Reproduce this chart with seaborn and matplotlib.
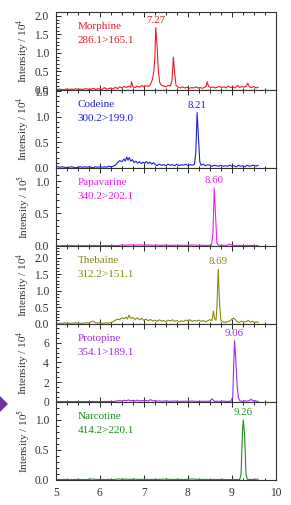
import matplotlib
matplotlib.use("Agg")
import matplotlib.pyplot as plt
from matplotlib.patches import Polygon
from matplotlib.ticker import MultipleLocator
import seaborn as sns

# retention time (min) and intensity for each MRM trace
morphine_t = [5.00, 5.05, 5.10, 5.15, 5.20, 5.25, 5.30, 5.35, 5.40, 5.45, 5.50, 5.55, 5.60, 5.65, 5.70,
              5.75, 5.80, 5.85, 5.90, 5.95, 6.00, 6.05, 6.10, 6.15, 6.20, 6.25, 6.30, 6.35, 6.40, 6.45,
              6.50, 6.55, 6.60, 6.65, 6.70, 6.72, 6.75, 6.80, 6.85, 6.90, 6.95, 7.00, 7.05, 7.10, 7.15,
              7.20, 7.23, 7.25, 7.27, 7.30, 7.33, 7.36, 7.40, 7.45, 7.50, 7.55, 7.60, 7.64, 7.67, 7.70,
              7.73, 7.78, 7.83, 7.88, 7.93, 7.98, 8.03, 8.08, 8.13, 8.18, 8.23, 8.28, 8.33, 8.38, 8.42,
              8.44, 8.47, 8.52, 8.57, 8.62, 8.67, 8.72, 8.77, 8.82, 8.87, 8.92, 8.97, 9.02, 9.07, 9.13,
              9.18, 9.23, 9.28, 9.33, 9.36, 9.40, 9.45, 9.50, 9.55, 9.60]
morphine_i = [0.02, 0.01, 0.02, 0.00, 0.01, 0.02, 0.01, 0.02, 0.01, 0.03, 0.01, 0.02, 0.01, 0.02, 0.03,
              0.01, 0.02, 0.04, 0.01, 0.03, 0.02, 0.01, 0.06, 0.02, 0.03, 0.05, 0.02, 0.07, 0.03, 0.08,
              0.05, 0.09, 0.06, 0.10, 0.07, 0.22, 0.08, 0.06, 0.10, 0.07, 0.12, 0.08, 0.11, 0.09, 0.14,
              0.30, 0.55, 0.90, 1.68, 1.20, 0.50, 0.20, 0.12, 0.10, 0.08, 0.12, 0.10, 0.25, 0.88, 0.45,
              0.12, 0.07, 0.05, 0.08, 0.05, 0.07, 0.04, 0.06, 0.05, 0.08, 0.05, 0.06, 0.04, 0.07, 0.10,
              0.22, 0.09, 0.06, 0.08, 0.05, 0.07, 0.09, 0.06, 0.08, 0.05, 0.10, 0.06, 0.08, 0.05, 0.12,
              0.06, 0.09, 0.07, 0.10, 0.18, 0.08, 0.06, 0.09, 0.05, 0.07]

codeine_t = [5.00, 5.05, 5.10, 5.15, 5.20, 5.25, 5.30, 5.35, 5.40, 5.45, 5.50, 5.55, 5.60, 5.65, 5.70,
             5.75, 5.80, 5.85, 5.90, 5.95, 6.00, 6.05, 6.10, 6.15, 6.20, 6.25, 6.30, 6.35, 6.40, 6.45,
             6.50, 6.55, 6.58, 6.61, 6.64, 6.67, 6.70, 6.74, 6.78, 6.82, 6.86, 6.90, 6.94, 6.98, 7.02,
             7.06, 7.10, 7.14, 7.18, 7.22, 7.26, 7.30, 7.35, 7.40, 7.45, 7.50, 7.55, 7.60, 7.65, 7.70,
             7.75, 7.80, 7.85, 7.90, 7.95, 8.00, 8.05, 8.10, 8.15, 8.18, 8.21, 8.24, 8.27, 8.30, 8.35,
             8.40, 8.45, 8.50, 8.55, 8.60, 8.65, 8.70, 8.75, 8.80, 8.85, 8.90, 8.95, 9.00, 9.05, 9.10,
             9.15, 9.20, 9.25, 9.30, 9.35, 9.40, 9.45, 9.50, 9.55, 9.60]
codeine_i = [0.01, 0.02, 0.01, 0.02, 0.01, 0.00, 0.01, 0.02, 0.01, 0.00, 0.01, 0.02, 0.01, 0.02, 0.01,
             0.02, 0.01, 0.00, 0.02, 0.01, 0.02, 0.01, 0.02, 0.01, 0.03, 0.02, 0.03, 0.05, 0.10, 0.14,
             0.12, 0.17, 0.13, 0.21, 0.15, 0.20, 0.13, 0.16, 0.10, 0.13, 0.09, 0.12, 0.08, 0.11, 0.09,
             0.12, 0.08, 0.11, 0.07, 0.10, 0.06, 0.04, 0.07, 0.05, 0.06, 0.04, 0.07, 0.05, 0.06, 0.04,
             0.07, 0.04, 0.06, 0.05, 0.07, 0.04, 0.06, 0.05, 0.07, 0.30, 1.08, 0.60, 0.12, 0.05, 0.07,
             0.04, 0.06, 0.05, 0.03, 0.05, 0.04, 0.03, 0.05, 0.03, 0.04, 0.03, 0.05, 0.03, 0.04, 0.02,
             0.05, 0.03, 0.04, 0.02, 0.05, 0.03, 0.04, 0.05, 0.03, 0.05]

papaverine_t = [5.0, 5.1, 5.2, 5.3, 5.4, 5.5, 5.6, 5.7, 5.8, 5.9, 6.0, 6.1, 6.2, 6.3, 6.4, 6.5, 6.6,
                6.7, 6.8, 6.9, 7.0, 7.1, 7.2, 7.3, 7.4, 7.5, 7.6, 7.7, 7.8, 7.9, 8.0, 8.1, 8.2, 8.3,
                8.4, 8.5, 8.54, 8.57, 8.60, 8.63, 8.66, 8.70, 8.8, 8.9, 8.96, 9.0, 9.1, 9.2, 9.3, 9.4,
                9.5, 9.6]
papaverine_i = [0.002, 0.000, 0.003, 0.001, 0.002, 0.000, 0.003, 0.001, 0.002, 0.004, 0.001, 0.003,
                0.002, 0.005, 0.003, 0.012, 0.008, 0.015, 0.010, 0.014, 0.009, 0.012, 0.008, 0.011,
                0.007, 0.010, 0.006, 0.009, 0.005, 0.008, 0.006, 0.014, 0.007, 0.009, 0.005, 0.008,
                0.010, 0.20, 0.89, 0.45, 0.04, 0.008, 0.006, 0.010, 0.025, 0.008, 0.005, 0.007, 0.004,
                0.006, 0.003, 0.005]

thebaine_t = [5.00, 5.05, 5.10, 5.15, 5.20, 5.25, 5.30, 5.35, 5.40, 5.45, 5.50, 5.55, 5.60, 5.65, 5.70,
              5.75, 5.80, 5.85, 5.90, 5.95, 6.00, 6.05, 6.10, 6.15, 6.20, 6.25, 6.30, 6.35, 6.40, 6.45,
              6.50, 6.55, 6.60, 6.63, 6.66, 6.70, 6.75, 6.80, 6.85, 6.90, 6.95, 7.00, 7.05, 7.10, 7.15,
              7.20, 7.25, 7.30, 7.35, 7.40, 7.45, 7.50, 7.55, 7.60, 7.65, 7.70, 7.75, 7.80, 7.85, 7.90,
              7.95, 8.00, 8.05, 8.10, 8.15, 8.20, 8.25, 8.30, 8.35, 8.40, 8.45, 8.50, 8.55, 8.58, 8.61,
              8.64, 8.66, 8.69, 8.72, 8.75, 8.80, 8.85, 8.90, 8.95, 9.00, 9.04, 9.08, 9.12, 9.17, 9.22,
              9.27, 9.32, 9.37, 9.42, 9.47, 9.52, 9.57, 9.60]
thebaine_i = [0.02, 0.01, 0.02, 0.01, 0.03, 0.01, 0.02, 0.01, 0.02, 0.03, 0.01, 0.02, 0.01, 0.02, 0.03,
              0.02, 0.06, 0.08, 0.03, 0.02, 0.03, 0.01, 0.02, 0.03, 0.02, 0.04, 0.06, 0.10, 0.14, 0.12,
              0.18, 0.15, 0.20, 0.14, 0.26, 0.16, 0.19, 0.13, 0.18, 0.12, 0.16, 0.10, 0.14, 0.09, 0.13,
              0.08, 0.11, 0.07, 0.12, 0.08, 0.10, 0.06, 0.11, 0.08, 0.12, 0.07, 0.10, 0.06, 0.09, 0.07,
              0.11, 0.08, 0.12, 0.07, 0.10, 0.08, 0.11, 0.07, 0.10, 0.06, 0.09, 0.12, 0.10, 0.38, 0.15,
              0.10, 0.50, 1.65, 0.60, 0.10, 0.06, 0.04, 0.06, 0.08, 0.14, 0.17, 0.12, 0.06, 0.04, 0.08,
              0.05, 0.06, 0.10, 0.05, 0.07, 0.04, 0.06, 0.03]

protopine_t = [5.0, 5.1, 5.2, 5.3, 5.4, 5.5, 5.6, 5.7, 5.8, 5.9, 6.0, 6.1, 6.2, 6.3, 6.4, 6.45, 6.5,
               6.55, 6.6, 6.65, 6.7, 6.75, 6.8, 6.85, 6.9, 6.95, 7.0, 7.05, 7.1, 7.15, 7.2, 7.25, 7.3,
               7.35, 7.4, 7.5, 7.6, 7.7, 7.8, 7.9, 8.0, 8.1, 8.2, 8.3, 8.4, 8.5, 8.55, 8.6, 8.7, 8.8,
               8.9, 8.98, 9.02, 9.04, 9.06, 9.09, 9.12, 9.15, 9.18, 9.25, 9.30, 9.35, 9.40, 9.44, 9.48,
               9.53, 9.57, 9.60]
protopine_i = [0.02, 0.01, 0.02, 0.01, 0.02, 0.01, 0.02, 0.01, 0.03, 0.02, 0.01, 0.02, 0.03, 0.02,
               0.08, 0.12, 0.06, 0.15, 0.10, 0.18, 0.09, 0.14, 0.08, 0.16, 0.07, 0.12, 0.09, 0.13, 0.06,
               0.22, 0.08, 0.11, 0.06, 0.09, 0.05, 0.08, 0.04, 0.07, 0.03, 0.06, 0.04, 0.07, 0.03, 0.05,
               0.04, 0.06, 0.30, 0.05, 0.04, 0.06, 0.03, 0.05, 0.50, 3.50, 6.20, 4.20, 1.60, 0.40, 0.08,
               0.05, 0.10, 0.06, 0.12, 0.25, 0.08, 0.10, 0.04, 0.05]

narcotine_t = [5.0, 5.1, 5.2, 5.3, 5.4, 5.5, 5.6, 5.7, 5.8, 5.9, 6.0, 6.1, 6.2, 6.3, 6.4, 6.45, 6.5,
               6.6, 6.7, 6.8, 6.9, 7.0, 7.1, 7.2, 7.3, 7.4, 7.5, 7.6, 7.7, 7.8, 7.9, 8.0, 8.1, 8.2,
               8.3, 8.4, 8.5, 8.6, 8.7, 8.8, 8.9, 9.0, 9.1, 9.18, 9.21, 9.24, 9.26, 9.29, 9.32, 9.35,
               9.4, 9.5, 9.58, 9.6]
narcotine_i = [0.003, 0.002, 0.004, 0.001, 0.003, 0.005, 0.002, 0.004, 0.010, 0.006, 0.003, 0.002,
               0.004, 0.003, 0.008, 0.014, 0.006, 0.009, 0.005, 0.008, 0.004, 0.007, 0.003, 0.006,
               0.004, 0.007, 0.010, 0.005, 0.004, 0.006, 0.003, 0.008, 0.011, 0.006, 0.003, 0.005,
               0.002, 0.004, 0.003, 0.005, 0.002, 0.004, 0.003, 0.004, 0.10, 0.80, 1.00, 0.75, 0.10,
               0.008, 0.004, 0.003, 0.010, 0.006]

names = ["Morphine", "Codeine", "Papavarine", "Thebaine", "Protopine", "Narcotine"]
transitions = ["286.1>165.1", "300.2>199.0", "340.2>202.1", "312.2>151.1", "354.1>189.1", "414.2>220.1"]
exponents = ["4", "4", "5", "4", "4", "5"]
peak_times = [7.27, 8.21, 8.60, 8.69, 9.06, 9.26]
peak_labels = ["7.27", "8.21", "8.60", "8.69", "9.06", "9.26"]
colors = ["#ec1c24", "#1f1fd6", "#f01cf0", "#8a8a12", "#9a2ef0", "#1f8f1f"]
ylims = [2.1, 1.52, 1.2, 2.35, 7.9, 1.3]
major_steps = [0.5, 0.5, 0.5, 0.5, 2, 0.5]
minor_steps = [0.1, 0.1, 0.1, 0.1, 0.5, 0.1]

traces = [(morphine_t, morphine_i), (codeine_t, codeine_i), (papaverine_t, papaverine_i),
          (thebaine_t, thebaine_i), (protopine_t, protopine_i), (narcotine_t, narcotine_i)]

sns.set_style("ticks")
plt.rcParams["font.family"] = ["Liberation Serif", "DejaVu Serif"]
plt.rcParams["mathtext.fontset"] = "stix"

fig, axes = plt.subplots(6, 1, figsize=(2.91, 5.05), dpi=100, sharex=True)
fig.subplots_adjust(left=0.192, right=0.948, top=0.976, bottom=0.0495, hspace=0)

for k, ax in enumerate(axes):
    t, y = traces[k]
    sns.lineplot(x=t, y=y, ax=ax, color=colors[k], linewidth=0.8)
    top = ylims[k]
    ax.set_xlim(5, 10)
    ax.set_ylim(-0.004 * top, top)
    ax.yaxis.set_major_locator(MultipleLocator(major_steps[k]))
    ax.yaxis.set_minor_locator(MultipleLocator(minor_steps[k]))
    ax.xaxis.set_major_locator(MultipleLocator(1))
    ax.xaxis.set_minor_locator(MultipleLocator(0.25))
    if major_steps[k] < 1:
        ax.yaxis.set_major_formatter(matplotlib.ticker.FormatStrFormatter("%.1f"))
    ax.tick_params(which="both", direction="in", top=True, bottom=True, left=True, right=False,
                   labelsize=8.3, pad=5, width=0.7, labelcolor="#333333")
    ax.tick_params(which="major", length=3.5)
    ax.tick_params(which="minor", length=1.8)
    for s in ax.spines.values():
        s.set_linewidth(0.8)
        s.set_color("#333333")
    ax.set_ylabel("Intensity / 10$^{%s}$" % exponents[k], fontsize=8, color="#333333")
    ax.yaxis.set_label_coords(-0.11, 0.5)
    ax.text(0.10, 0.78, names[k], transform=ax.transAxes, color=colors[k], fontsize=8, va="baseline")
    ax.text(0.10, 0.60, transitions[k], transform=ax.transAxes, color=colors[k], fontsize=8, va="baseline")
    ax.annotate(peak_labels[k], xy=(peak_times[k], max(y)), xytext=(0, 3.5), textcoords="offset points",
                ha="center", va="baseline", color=colors[k], fontsize=7.8)
    if k < 5:
        ax.tick_params(labelbottom=False)

axes[-1].set_xlabel("t / min", fontsize=8, labelpad=8)

# partial arrow marker at the left edge
fig.patches.append(Polygon([[0, 1 - 396 / 505], [8 / 291, 1 - 404 / 505], [0, 1 - 412 / 505]],
                           closed=True, transform=fig.transFigure, facecolor="#7030a0", edgecolor="none"))

fig.savefig("out.png", dpi=100)
